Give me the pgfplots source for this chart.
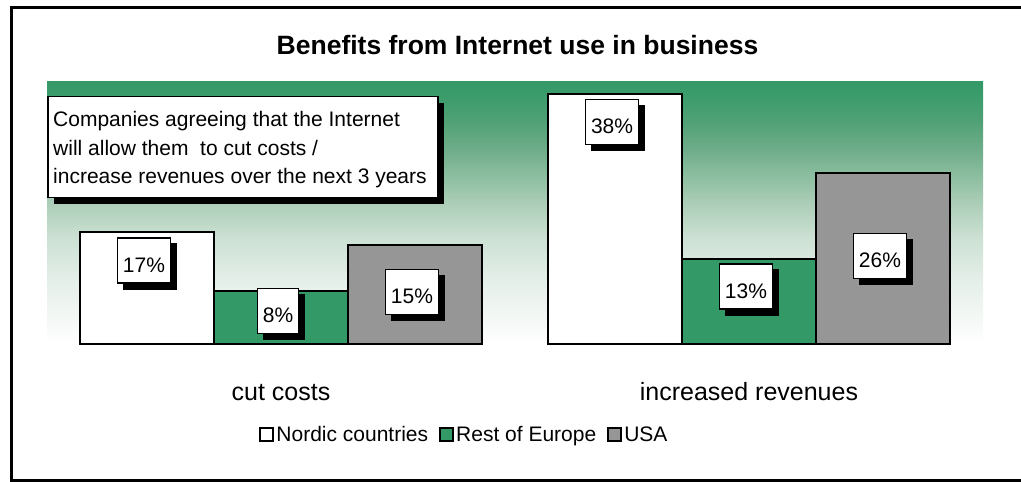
\documentclass[border=0pt]{standalone}
\usepackage{pgfplots}
\usepackage{pgfplotstable}
\pgfplotsset{compat=1.18}
\usepackage{fontspec}
\setmainfont{Liberation Sans}
\usetikzlibrary{shadows}

\definecolor{eugreen}{HTML}{339966}
\definecolor{usagray}{HTML}{969696}
\definecolor{g1}{HTML}{F4F8F5}
\definecolor{g2}{HTML}{E5EFE9}
\definecolor{g3}{HTML}{CDE1D4}
\definecolor{g4}{HTML}{B0D0BB}
\definecolor{g5}{HTML}{8CBEA0}
\definecolor{g6}{HTML}{68AA85}
\definecolor{g7}{HTML}{4DA074}
\definecolor{g8}{HTML}{3C9C6C}
\pgfdeclareverticalshading{bggrad}{100bp}{color(0bp)=(white); color(25bp)=(white);
  color(30bp)=(g1); color(37bp)=(g2); color(45bp)=(g3); color(51bp)=(g4);
  color(57bp)=(g5); color(63bp)=(g6); color(68bp)=(g7); color(72bp)=(g8);
  color(75bp)=(eugreen); color(100bp)=(eugreen)}

% x, value, label drop below bar top (pt)
\pgfplotstableread{
x y dy
0 17 28.3
1 38 27.8
}\nordic
\pgfplotstableread{
x y dy
0 8 19.6
1 13 28
}\resteu
\pgfplotstableread{
x y dy
0 15 46.6
1 26 82.9
}\usa

\tikzset{
  shbox/.style={draw=black, line width=1.5pt, fill=white, text=black,
    drop shadow={shadow xshift=6pt, shadow yshift=-6pt, fill=black, opacity=1}},
}

\begin{document}
\begin{tikzpicture}
\useasboundingbox (0,0) rectangle (1021pt,482pt);
\draw[line width=3pt] (11pt,1pt) rectangle (1040pt,474.5pt);
\node[font=\bfseries\fontsize{26.5}{30}\selectfont, anchor=base] at (517.5pt,427pt)
  {Benefits from Internet use in business};

\begin{axis}[
  at={(47pt,138pt)}, anchor=south west,
  scale only axis, width=936pt, height=263pt,
  clip=false,
  ybar=0pt, bar width=0.2863,
  xmin=-0.5, xmax=1.5, ymin=0, ymax=40,
  axis background/.style={shade, shading=bggrad},
  axis line style={draw=none},
  ytick=\empty,
  xtick={0,1}, xticklabels={cut costs, increased revenues},
  xtick style={draw=none},
  xticklabel style={font=\fontsize{25}{30}\selectfont, anchor=base, yshift=-52pt},
  sq legend/.style={legend image code/.code={
    \draw[##1, line width=2pt, draw=black] (0pt,-6.5pt) rectangle (13pt,6.5pt);}},
  legend style={at={(0.446,-0.346)}, anchor=center, draw=none, fill=none,
    legend columns=-1, font=\fontsize{21}{25}\selectfont,
    nodes={inner xsep=2pt, inner ysep=1pt},
    /tikz/every even column/.append style={column sep=9pt}},
  visualization depends on={\thisrow{dy} \as \dy},
  nodes near coords={\pgfmathprintnumber[assume math mode=true]{\pgfplotspointmeta}\%},
  nodes near coords align={anchor=center},
  every node near coord/.append style={shbox, anchor=center, font=\fontsize{21}{25}\selectfont,
    inner xsep=5.5pt, inner ysep=11pt, text height=23pt, text depth=0pt,
    xshift=-3pt, yshift={-\dy*1pt}},
]
\addplot[fill=white, draw=black, line width=2pt, sq legend] table[x=x, y=y] {\nordic};
\addlegendentry{Nordic countries}
\addplot[fill=eugreen, draw=black, line width=2pt, sq legend] table[x=x, y=y] {\resteu};
\addlegendentry{Rest of Europe}
\addplot[fill=usagray, draw=black, line width=2pt, sq legend] table[x=x, y=y] {\usa};
\addlegendentry{USA}

\node[shbox, anchor=north west, minimum width=390pt, minimum height=101pt, inner sep=0pt]
  (ann) at (rel axis cs:0,0.943) {};
\begin{scope}[every node/.style={anchor=base west, inner sep=0pt, font=\fontsize{21}{25}\selectfont}]
\node at ([xshift=6pt, yshift=-31pt]ann.north west) {Companies agreeing that the Internet};
\node at ([xshift=6pt, yshift=-59.5pt]ann.north west) {will allow them~ to cut costs /};
\node at ([xshift=6pt, yshift=-88pt]ann.north west) {increase revenues over the next 3 years};
\end{scope}
\end{axis}
\end{tikzpicture}
\end{document}
